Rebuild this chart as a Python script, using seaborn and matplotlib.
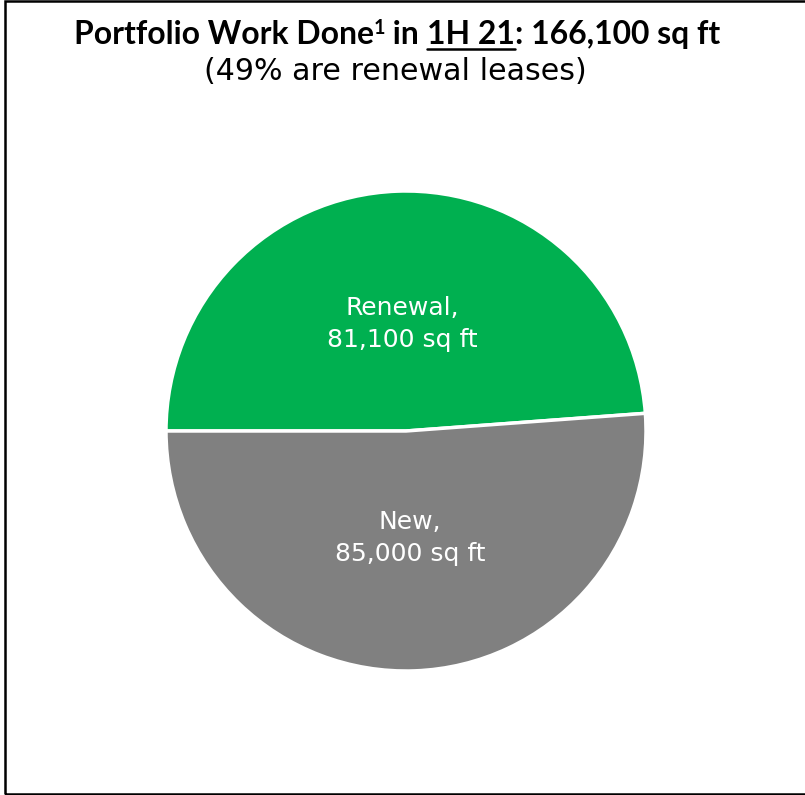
import matplotlib
matplotlib.use('Agg')
import matplotlib.pyplot as plt
import matplotlib.patches as mpatches
from matplotlib.lines import Line2D
import seaborn as sns

# data
labels = ['Renewal,\n81,100 sq ft', 'New,\n85,000 sq ft']
sqft = [81100, 85000]
colors = ['#00B050', '#808080']

title_parts = ['Portfolio Work Done', '1', ' in ', '1H 21', ': 166,100 sq ft']
subtitle = '(49% are renewal leases)'

sns.set_theme(style='white')
plt.rcParams['font.family'] = ['Lato', 'DejaVu Sans']

fig = plt.figure(figsize=(8.05, 7.95), dpi=100)
ax = fig.add_axes([166 / 805, 124 / 795, 480 / 805, 480 / 795])

wedges, texts = ax.pie(sqft, labels=labels, colors=colors, startangle=180,
                       counterclock=False, labeldistance=0.445,
                       wedgeprops=dict(edgecolor='white', linewidth=2.5),
                       textprops=dict(color='white', fontsize=18, ha='center',
                                      va='center', linespacing=1.4,
                                      family='DejaVu Sans'))
for w in wedges:
    w.set_clip_on(False)
ax.set_xlim(-1, 1)
ax.set_ylim(-1, 1)
ax.set_aspect('equal')

renderer = fig.canvas.get_renderer()


def title_width(fs):
    w = 0
    for part in title_parts:
        size = fs * 0.62 if part == '1' else fs
        t = fig.text(0, 0, part, fontsize=size, fontweight='bold')
        w += t.get_window_extent(renderer).width
        t.remove()
    return w


# size the title so it spans about 645 px
fs = 21.5 * 645 / title_width(21.5)

# title pieces, chained left to right
pieces = []
x0 = 0.0
y0 = 1 - 44 / 795
for part in title_parts:
    size = fs * 0.62 if part == '1' else fs
    dy = 10 / 795 if part == '1' else 0
    t = fig.text(x0, y0 + dy, part, fontsize=size, fontweight='bold',
                 ha='left', va='baseline', color='black')
    x0 += t.get_window_extent(renderer).width / 805
    pieces.append(t)
shift = (397 / 805) - x0 / 2
for t in pieces:
    t.set_x(t.get_position()[0] + shift)

# underline under "1H 21"
bb = pieces[3].get_window_extent(renderer)
uy = 1 - 49 / 795
fig.add_artist(Line2D([bb.x0 / 805, bb.x1 / 805], [uy, uy], color='black',
                      linewidth=1.8, transform=fig.transFigure))

fig.text(395 / 805, 1 - 72 / 795, subtitle, fontsize=21.7, ha='center',
         va='center', color='black', family='DejaVu Sans')

# outer frame
fig.add_artist(mpatches.Rectangle((5 / 805, 1 / 795), 1.0, 793 / 795,
                                  transform=fig.transFigure, fill=False,
                                  edgecolor='black', linewidth=1.8,
                                  clip_on=False))

fig.savefig('out.png', dpi=100)
